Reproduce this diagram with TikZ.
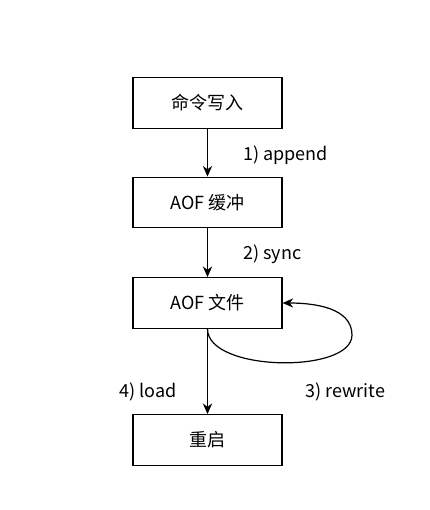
\documentclass[tikz,border=0pt]{standalone}
\usepackage{fontspec}
\setmainfont{Noto Sans CJK SC}
\usetikzlibrary{arrows.meta,positioning}
\tikzset{
  stagebox/.style={draw,line width=0.9pt,minimum width=111.75pt,minimum height=38pt,inner sep=0pt,font=\fontsize{13.5pt}{15pt}\selectfont},
  flowline/.style={line width=0.9pt,-{Stealth[length=8pt,width=7pt]}},
  steplabel/.style={font=\fontsize{13.5pt}{15pt}\selectfont,inner sep=0pt}
}
\begin{document}
\begin{tikzpicture}[x=0.75pt,y=-0.75pt]
\useasboundingbox (0,0) rectangle (429,510);
% boxes
\node[stagebox] (cmd) at (207.5,103) {命令写入};
\node[stagebox] (buf) at (207.5,202.5) {AOF 缓冲};
\node[stagebox] (file) at (207.5,303) {AOF 文件};
\node[stagebox] (restart) at (207.5,440) {重启};
% arrows
\draw[flowline] (cmd) -- (buf);
\draw[flowline] (buf) -- (file);
\draw[flowline] (file) -- (restart);
\draw[flowline] (file.south) .. controls (207.5,372) and (352,374) .. (352,335)
  .. controls (352,308) and (315,303) .. (file.east);
% labels
\node[steplabel,anchor=west] (lblappend) at (243,155) {1) append};
\node[steplabel,anchor=west] (lblsync) at (243,254) {2) sync};
\node[steplabel,anchor=west] (lblrewrite) at (305,392) {3) rewrite};
\node[steplabel,anchor=west] (lblload) at (119,392) {4) load};
\end{tikzpicture}
\end{document}
